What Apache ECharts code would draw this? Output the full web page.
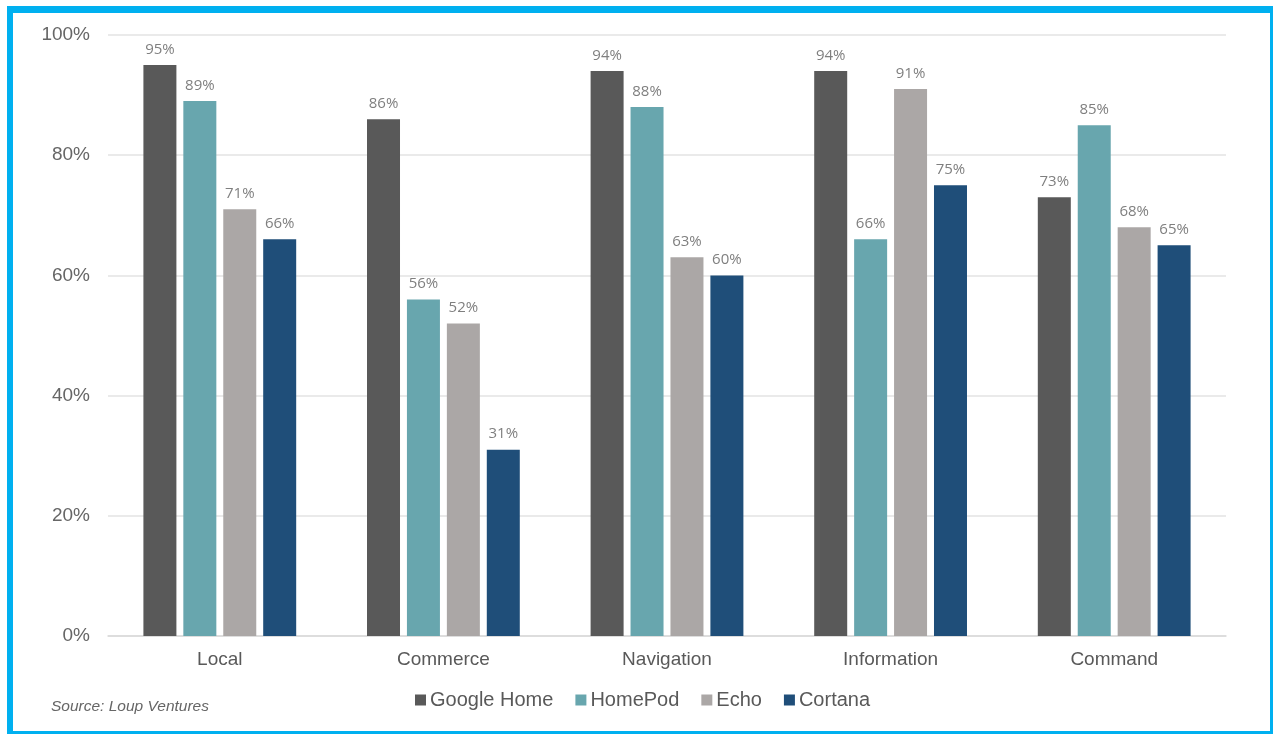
<!DOCTYPE html>
<html>
<head>
<meta charset="utf-8">
<script src="https://cdn.jsdelivr.net/npm/echarts@6/dist/echarts.min.js"></script>
<style>
html,body{margin:0;padding:0;background:#fff;}
#chart{width:1273px;height:734px;}
</style>
</head>
<body>
<div id="chart"></div>
<script>
const categories = ['Local', 'Commerce', 'Navigation', 'Information', 'Command'];
const googleHome = [95, 86, 94, 94, 73];
const homePod = [89, 56, 88, 66, 85];
const echo = [71, 52, 63, 91, 68];
const cortana = [66, 31, 60, 75, 65];
const seriesNames = ['Google Home', 'HomePod', 'Echo', 'Cortana'];
const seriesColors = ['#595959', '#68a6ae', '#aba7a6', '#1f4e79'];
const yTicks = [0, 20, 40, 60, 80, 100];

const chart = echarts.init(document.getElementById('chart'), null, {renderer: 'canvas'});
const dataSets = [googleHome, homePod, echo, cortana];

const series = dataSets.map((d, i) => ({
  name: seriesNames[i],
  type: 'bar',
  data: d,
  barWidth: 33,
  barGap: '21%',
  itemStyle: {color: seriesColors[i]},
  label: {
    show: true,
    position: 'top',
    distance: 8,
    formatter: p => p.value + '%',
    fontFamily: 'Open Sans',
    fontSize: 15,
    color: '#7f7f7f'
  }
}));

chart.setOption({
  animation: false,
  backgroundColor: '#ffffff',
  grid: {left: 108, right: 47, top: 35, bottom: 98, containLabel: false},
  xAxis: {
    type: 'category',
    data: categories,
    axisLine: {show: true, lineStyle: {color: '#d9d9d9', width: 1.5}},
    axisTick: {show: false},
    axisLabel: {fontFamily: 'Liberation Sans', fontSize: 19, color: '#595959', margin: 14}
  },
  yAxis: {
    type: 'value',
    min: yTicks[0],
    max: yTicks[yTicks.length - 1],
    interval: 20,
    axisLine: {show: false},
    axisTick: {show: false},
    splitLine: {lineStyle: {color: '#e3e3e3', width: 1.5}},
    axisLabel: {fontFamily: 'Liberation Sans', fontSize: 19, color: '#666666', margin: 18, formatter: v => v + '%'}
  },
  legend: {
    data: seriesNames,
    bottom: 24,
    left: 415,
    padding: 0,
    itemWidth: 11,
    itemHeight: 11,
    itemGap: 22,
    icon: 'rect',
    textStyle: {fontFamily: 'Liberation Sans', fontSize: 20, color: '#595959', padding: [0, 0, 0, -1]}
  },
  graphic: [
    {type: 'text', left: 51, top: 699, style: {text: 'Source: Loup Ventures', fontFamily: 'Liberation Sans', fontStyle: 'italic', fontSize: 15.5, fill: '#666666'}},
    {type: 'rect', shape: {x: 7, y: 6, width: 6, height: 728}, style: {fill: '#00b0f0'}},
    {type: 'rect', shape: {x: 7, y: 6, width: 1266, height: 7}, style: {fill: '#00b0f0'}},
    {type: 'rect', shape: {x: 1270, y: 6, width: 3, height: 728}, style: {fill: '#00b0f0'}},
    {type: 'rect', shape: {x: 7, y: 731, width: 1266, height: 3}, style: {fill: '#00b0f0'}}
  ],
  series: series
});
</script>
</body>
</html>
